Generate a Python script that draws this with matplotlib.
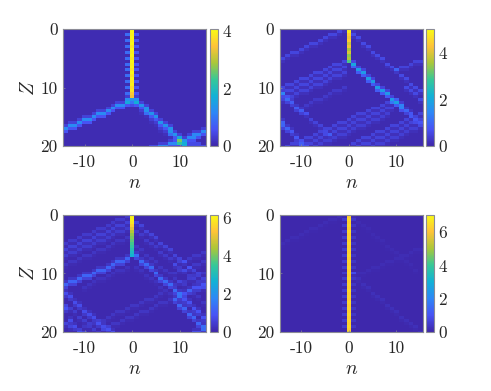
import numpy as np
import matplotlib
matplotlib.use("Agg")
import matplotlib.pyplot as plt
from matplotlib.colors import LinearSegmentedColormap

plt.rcParams['mathtext.fontset'] = 'cm'
plt.rcParams['font.family'] = ['cmr10', 'DejaVu Sans']

# Grid: n = -14..15, Z = 0..20 in steps of 0.5 (row index = 2 Z)
n_vals = list(range(-14, 16))
n_rows = 41
col0 = 14

parula_colors = [(0.2422, 0.1504, 0.6603), (0.2810, 0.3228, 0.9579),
                 (0.1786, 0.5289, 0.9682), (0.0689, 0.6948, 0.8394),
                 (0.2161, 0.7843, 0.5923), (0.6720, 0.7793, 0.2227),
                 (0.9970, 0.7659, 0.2199), (0.9769, 0.9839, 0.0805)]
parula = LinearSegmentedColormap.from_list('parula', parula_colors, N=256)

vmax_list = [4.05, 5.03, 6.15, 7.04]
cbar_ticks = [[0, 2, 4], [0, 2, 4], [0, 2, 4, 6], [0, 2, 4, 6]]

# Central column (n = 0), one value per row
core1 = [3.7, 4, 3.9, 4, 3.9, 4, 3.8, 4, 3.9, 4, 3.8, 4, 3.9, 4, 3.8, 4, 3.8, 4, 3.8, 3.9, 3.7, 3.8, 3.5, 3.4, 1.3]
core2 = [4.9, 4.8, 4.4, 4.2, 4.4, 3.9, 4.2, 3.6, 4.0, 3.4, 3.6, 3.0]
core3 = [6.0, 6.0, 6.0, 5.8, 5.5, 5.0, 4.5, 4.2, 4.0, 3.8, 3.6, 3.4, 3.1, 2.9, 2.7]
core4 = [5.5, 6.2, 6.4, 6.2, 6.4, 6.2, 6.4, 6.2, 6.3, 6.2, 6.4, 6.2, 6.3, 6.2, 6.4, 6.2, 6.3, 6.2, 6.4, 6.2, 6.3,
         6.2, 6.4, 6.2, 6.3, 6.2, 6.4, 6.2, 6.3, 6.2, 6.4, 6.2, 6.3, 6.2, 6.4, 6.2, 6.3, 6.2, 6.4, 6.2, 5.6]

# Side pips next to the central column: (amplitude, column, rows)
pips1 = [(0.8, 13, [0, 2, 4, 6, 8, 10, 12, 14, 16, 18, 20, 22]),
         (0.5, 15, [0, 2, 4, 6, 8, 10, 12, 14, 16, 18, 20, 22])]
pips2 = []
pips3 = []
pips4 = [(0.4, 13, list(range(0, 40, 2))),
         (0.3, 15, list(range(0, 40, 2))),
         (0.5, 15, [20])]

# Rays: (amplitude, columns, rows)
rays1 = [
    (1.15, [13, 12, 11, 10, 9, 8, 7, 6, 5, 4, 3, 2, 1, 0],
     [25, 26, 26, 27, 28, 29, 29, 30, 31, 31, 32, 33, 33, 34]),
    (1.25, [15, 16, 17, 17, 18, 19, 20, 21, 22, 22, 23, 24, 24, 25],
     [25, 26, 27, 28, 29, 30, 32, 33, 34, 35, 36, 37, 38, 40]),
    (1.1, [29, 28, 27, 27, 26, 25, 24, 23, 22, 21, 20],
     [35, 36, 36, 37, 37, 38, 38, 39, 39, 40, 40]),
    (0.25, [16, 17, 18, 19, 20, 21, 22, 23, 24], [28, 29, 31, 32, 34, 35, 36, 38, 39]),
    (0.9, [15, 14, 13], [24, 25, 24]),
    (0.4, [18, 19, 26, 27, 28, 27, 28, 26, 29], [40, 40, 39, 39, 39, 40, 40, 40, 40]),
    (0.8, [24, 25], [39, 39]),
]
rays2 = [
    (1.9, [15], [12]),
    (1.7, [16, 17, 18, 19, 20, 21, 22, 23, 24], [14, 15, 17, 18, 20, 21, 22, 24, 25]),
    (1.3, [25, 25], [26, 27]),
    (0.9, [26], [28]),
    (0.7, [27], [29]),
    (0.55, [28, 29], [31, 32]),
    (0.45, [13, 12, 11, 10, 9, 8, 7, 6, 5, 4, 3, 2, 1, 0], [0, 1, 2, 2, 3, 4, 5, 5, 6, 7, 8, 8, 9, 10]),
    (0.45, [13, 12, 11, 10, 9, 8, 7, 6, 5, 4, 3, 2, 1, 0], [11, 12, 12, 13, 14, 15, 15, 16, 17, 17, 18, 19, 19, 20]),
    (0.45, [13, 12, 11, 10, 9, 8, 7, 6, 5, 4, 3, 2, 1, 0], [13, 14, 14, 15, 16, 17, 17, 18, 19, 19, 20, 21, 21, 22]),
    (0.4, [13, 12, 11, 10, 9, 8, 7, 6, 5, 4, 3, 2, 1, 0], [15, 16, 16, 17, 18, 19, 19, 20, 21, 21, 22, 23, 23, 24]),
    (0.25, [13, 12, 11, 10, 9, 8, 7, 6, 5], [20, 21, 21, 22, 23, 24, 24, 25, 26]),
    (0.9, [0, 1], [22, 24]),
    (0.8, [2, 3, 4], [25, 27, 28]),
    (0.6, [5], [29]),
    (0.4, [6, 7, 8, 9, 10], [31, 32, 33, 35, 36]),
    (0.9, [0, 0, 1], [32, 33, 34]),
    (0.7, [2, 3, 4], [35, 37, 39]),
    (0.5, [5], [40]),
    (0.4, [24, 23, 22, 21, 20, 19, 18, 17, 16, 15, 14, 13, 12, 11, 10, 9, 8, 7, 6, 5, 4, 3, 2, 1],
     [24, 25, 25, 26, 27, 27, 28, 29, 29, 30, 31, 32, 32, 33, 34, 34, 35, 36, 37, 37, 38, 39, 39, 40]),
    (0.4, [23, 22, 21, 20, 19, 18, 17, 16, 15, 14, 13, 12, 11, 10, 9, 8, 7, 6, 5, 4],
     [27, 27, 28, 29, 29, 30, 31, 31, 32, 33, 34, 34, 35, 36, 36, 37, 38, 39, 39, 40]),
    (0.35, [22, 21, 20, 19, 18, 17, 16, 15, 14, 13, 12, 11, 10, 9, 8, 7],
     [29, 30, 31, 31, 32, 33, 33, 34, 35, 36, 36, 37, 38, 38, 39, 40]),
    (0.4, [15, 16, 17, 18, 19, 20, 21, 22, 23, 24, 25, 26, 27, 28, 29],
     [39, 38, 37, 37, 36, 35, 35, 34, 33, 33, 32, 31, 30, 30, 29]),
    (0.4, [16, 17, 18, 19, 20, 21, 22, 23, 24, 25, 26, 27, 28, 29],
     [40, 39, 39, 38, 37, 37, 36, 35, 35, 34, 33, 32, 32, 31]),
    (0.35, [19, 20, 21, 22, 23, 24, 25, 26, 27, 28, 29],
     [40, 39, 39, 38, 37, 37, 36, 35, 34, 34, 33]),
    (0.5, [15, 15, 16, 17, 18, 19, 20, 21, 22, 23, 24, 25, 26, 27, 28, 29],
     [0, 2, 3, 5, 6, 8, 9, 10, 12, 13, 14, 16, 17, 19, 20, 21]),
    (0.4, [24, 25, 26, 27, 28, 29], [14, 13, 13, 12, 11, 11]),
    (0.5, [26, 27, 28, 29], [20, 21, 22, 24]),
]
rays3 = [
    (1.2, [15, 16, 17, 18, 19, 20, 21, 22, 23, 24],
     [14, 16, 17, 18, 20, 22, 23, 24, 26, 27]),
    (1.1, [13, 12, 11, 10, 9, 8, 7, 6, 5, 4, 3, 2, 1, 0],
     [15, 16, 16, 17, 18, 19, 19, 20, 21, 21, 22, 23, 23, 24]),
    (1.1, [23, 24, 25, 26, 27, 28, 29], [29, 31, 32, 34, 35, 37, 38]),
    (0.8, [25, 26, 27, 28, 29], [29, 30, 32, 33, 35]),
    (0.8, [24, 25, 26, 27, 28, 29], [28, 27, 26, 25, 25, 24]),
    (0.35, [13, 12, 11, 10, 9, 8, 7, 6, 5, 4, 3, 2, 1, 0], [1, 2, 2, 3, 4, 5, 5, 6, 7, 7, 8, 9, 9, 10]),
    (0.45, [13, 12, 11, 10, 9, 8, 7, 6, 5, 4, 3, 2, 1, 0], [3, 4, 4, 5, 6, 7, 7, 8, 9, 9, 10, 11, 11, 12]),
    (0.4, [13, 12, 11, 10, 9, 8, 7, 6, 5, 4, 3, 2, 1, 0], [5, 6, 6, 7, 8, 9, 9, 10, 11, 11, 12, 13, 13, 14]),
    (0.25, [13, 12, 11, 10, 9, 8, 7, 6, 5, 4, 3, 2, 1, 0], [8, 9, 9, 10, 11, 12, 12, 13, 14, 14, 15, 16, 16, 17]),
    (0.5, [15, 16, 17, 18, 19, 20, 21, 22, 23, 24, 25, 26, 27, 28, 29],
     [3, 4, 6, 7, 8, 10, 11, 12, 14, 15, 16, 18, 19, 20, 22]),
    (0.35, [15, 16, 17, 18, 19, 20, 21, 22, 23, 24, 25, 26, 27, 28, 29],
     [6, 7, 9, 10, 11, 13, 14, 15, 17, 18, 19, 21, 22, 23, 25]),
    (0.25, [15, 16, 17, 18, 19, 20, 21, 22, 23, 24, 25, 26, 27, 28, 29],
     [11, 12, 14, 15, 16, 18, 19, 20, 22, 23, 24, 26, 27, 28, 30]),
    (0.3, [23, 24, 25, 26, 27, 28, 29], [17, 16, 16, 15, 14, 14, 13]),
    (0.3, [23, 24, 25, 26, 27, 28, 29], [20, 19, 19, 18, 17, 17, 16]),
    (0.3, [23, 24, 25, 26, 27, 28, 29], [24, 23, 23, 22, 21, 21, 20]),
    (0.7, [0, 1, 2, 3, 4, 5, 6, 7, 8, 9, 10], [27, 28, 30, 31, 33, 34, 35, 37, 38, 39, 40]),
    (0.7, [0, 1, 2, 3], [32, 36, 38, 40]),
    (0.4, [0, 1, 2, 3, 4, 5, 6], [31, 32, 33, 35, 36, 37, 39]),
    (0.5, [0, 1, 4], [37, 38, 40]),
    (0.25, [22, 21, 20, 19, 18, 17, 16, 15, 14, 13, 12, 11, 10, 9, 8, 7],
     [29, 30, 30, 31, 32, 33, 33, 34, 35, 35, 36, 37, 37, 38, 39, 40]),
    (0.25, [20, 19, 18, 17, 16, 15, 14, 13, 12, 11, 10, 9, 8, 7, 6, 5, 4, 3],
     [27, 28, 29, 29, 30, 31, 31, 32, 33, 33, 34, 35, 36, 36, 37, 38, 38, 39]),
    (0.2, [13, 12, 11, 10, 9, 8, 7, 6, 5, 4], [18, 19, 19, 20, 21, 22, 22, 23, 24, 25]),
    (0.2, [15, 16, 17, 18, 19, 20, 21, 22], [18, 19, 21, 22, 23, 25, 26, 27]),
    (0.7, [27, 28, 29], [40, 40, 39]),
]
rays4 = [
    (0.1, [13, 12, 11, 10, 9, 8, 7, 6, 5, 4, 3, 2, 1, 0], [0, 1, 2, 2, 3, 4, 5, 5, 6, 7, 8, 8, 9, 10]),
    (0.08, [15, 16, 17, 18, 19, 20, 21, 22, 23, 24, 25, 26, 27, 28], [1, 3, 4, 5, 7, 8, 9, 11, 12, 13, 15, 16, 17, 19]),
    (0.1, [15, 16, 17, 18, 19, 20, 21, 22, 23, 24, 25, 26, 27, 28, 29],
     [21, 20, 20, 19, 18, 18, 17, 16, 16, 15, 14, 14, 13, 12, 12]),
    (0.15, [16, 17, 18, 19, 20, 21, 22, 23, 24, 25, 26, 27, 28, 29],
     [22, 24, 25, 27, 28, 29, 31, 32, 33, 35, 36, 37, 38, 40]),
]

panels = [(core1, rays1, pips1), (core2, rays2, pips2), (core3, rays3, pips3), (core4, rays4, pips4)]


def build_grid(core, rays, pips):
    grid = np.full((n_rows, len(n_vals)), 0.08)
    for amp, cols, rows in rays:
        cols = np.array(cols)
        rows = np.array(rows)
        # strong rays spread over the neighbouring rows in the picture, faint ones less
        below, above = (0.45, 0.25) if amp >= 0.7 else (0.25, 0.0)
        layer = np.zeros_like(grid)
        lo = rows + 1 < n_rows
        hi = rows > 0
        layer[rows[lo] + 1, cols[lo]] = amp * below
        layer[rows[hi] - 1, cols[hi]] = np.maximum(layer[rows[hi] - 1, cols[hi]], amp * above)
        layer[rows, cols] = amp
        grid += layer
    for amp, col, rows in pips:
        np.add.at(grid, (rows, [col] * len(rows)), amp)
    grid[:len(core), col0] = core
    return grid


W, H = 491.0, 391.0
ax_boxes = [(63.3, 29.3, 206.0, 146.0), (280.0, 29.3, 422.5, 146.0),
            (63.3, 214.7, 206.0, 332.0), (280.0, 214.7, 422.5, 332.0)]
cb_boxes = [(210.0, 218.0), (426.3, 434.3), (210.0, 218.0), (426.3, 434.3)]
edge = '#8b8b96'
txt = '#262626'

fig = plt.figure(figsize=(4.91, 3.91), dpi=100)

for i, (core, rays, pips) in enumerate(panels):
    x0, y0, x1, y1 = ax_boxes[i]
    ax = fig.add_axes([x0 / W, 1 - y1 / H, (x1 - x0) / W, (y1 - y0) / H])
    grid = build_grid(core, rays, pips)
    im = ax.imshow(grid, cmap=parula, vmin=0, vmax=vmax_list[i], aspect='auto',
                   interpolation='nearest', extent=[-14.5, 15.5, 20.25, -0.25])
    ax.set_ylim(20, 0)
    ax.set_xlim(-14.5, 15.5)
    ax.set_xticks([-10, 0, 10], ['-10', '0', '10'])
    ax.set_yticks([0, 10, 20], ['0', '10', '20'])
    ax.tick_params(direction='in', length=1.2, width=0.5, color=edge, labelcolor=txt,
                   labelsize=12.5)
    ax.tick_params(axis='x', pad=6)
    ax.tick_params(axis='y', pad=4)
    for s in ax.spines.values():
        s.set_color(edge)
        s.set_linewidth(0.8)
    ax.set_xlabel('$n$', fontsize=14, color=txt, labelpad=3)
    if i % 2 == 0:
        ax.set_ylabel('$Z$', fontsize=14, color=txt, labelpad=2)

    cx0, cx1 = cb_boxes[i]
    cax = fig.add_axes([cx0 / W, 1 - y1 / H, (cx1 - cx0) / W, (y1 - y0) / H])
    cb = fig.colorbar(im, cax=cax)
    cb.set_ticks(cbar_ticks[i], labels=[str(t) for t in cbar_ticks[i]])
    cb.ax.tick_params(length=0, labelcolor=txt, labelsize=12.5, pad=3)
    cb.outline.set_edgecolor(edge)
    cb.outline.set_linewidth(0.8)

plt.savefig('out.png', dpi=100)
